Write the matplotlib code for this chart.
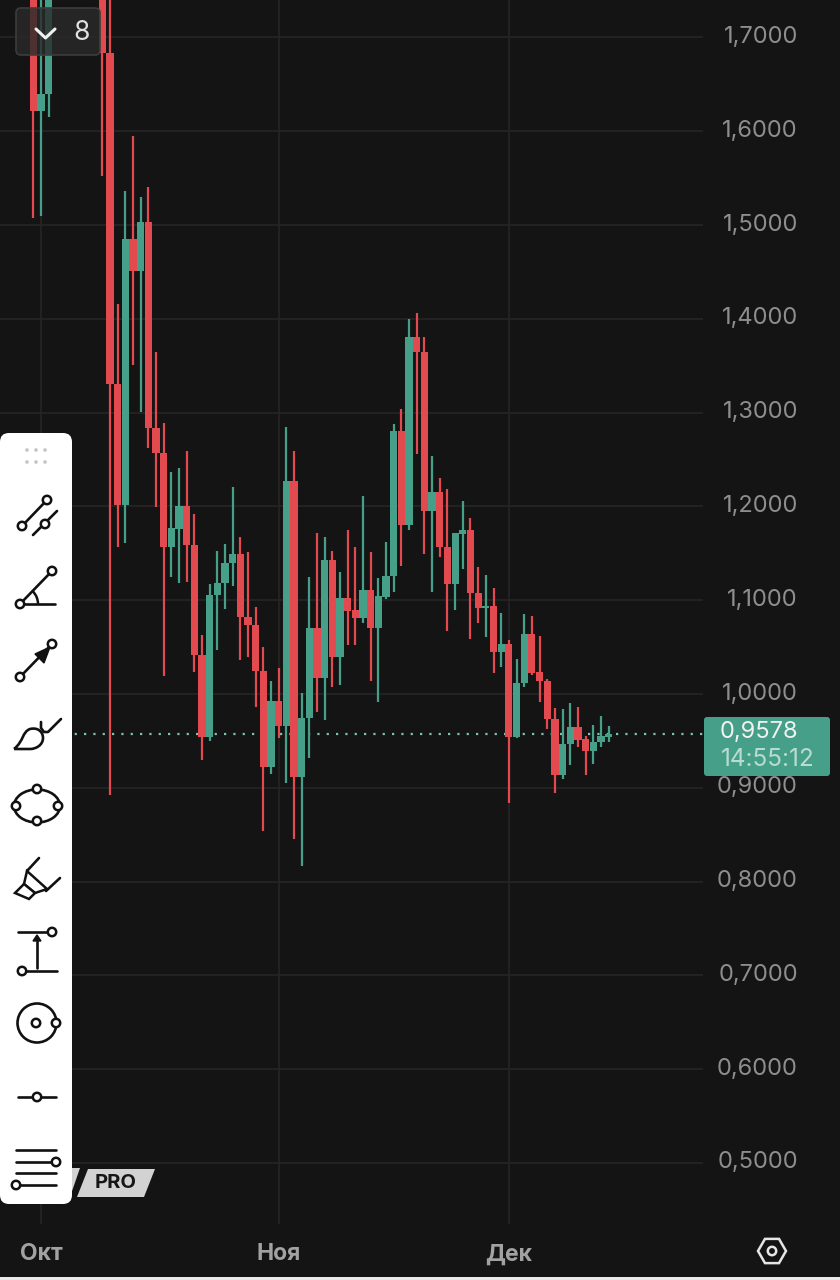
import numpy as np
import matplotlib
matplotlib.use("Agg")
import matplotlib.pyplot as plt
from matplotlib.patches import FancyBboxPatch, Polygon, Circle, Ellipse, RegularPolygon, Arc, PathPatch
from matplotlib.path import Path
from matplotlib.transforms import ScaledTranslation

# daily candles, day 1 is the Oct tick; days 3-8 are above the view
day = [0, 1, 2] + list(range(9, 76))
open_ = [1.78, 1.6215, 1.6397, 1.78, 1.6834, 1.3305, 1.2015, 1.4851, 1.4510, 1.5032,
         1.2836, 1.2569, 1.1567, 1.1759, 1.2004, 1.1588, 1.0416, 0.9542, 1.1055, 1.1183,
         1.1397, 1.1493, 1.0821, 1.0736, 1.0245, 0.9222, 0.9925, 0.9659, 1.2271, 0.9115,
         0.9744, 1.0704, 1.0171, 1.1429, 1.0394, 1.1023, 1.0896, 1.0810, 1.1109, 1.0704,
         1.1034, 1.1258, 1.2804, 1.1802, 1.3806, 1.3646, 1.1951, 1.2154, 1.1567, 1.1173,
         1.1706, 1.1748, 1.1077, 1.0917, 1.0938, 1.0448, 1.0533, 0.9542, 1.0117, 1.0640,
         1.0235, 1.0139, 0.9733, 0.9136, 0.9467, 0.9648, 0.9520, 0.9392, 0.9488, 0.9542]
close = [1.6215, 1.6397, 1.78, 1.6834, 1.3305, 1.2015, 1.4851, 1.4510, 1.5032, 1.2836,
         1.2569, 1.1567, 1.1770, 1.2004, 1.1588, 1.0416, 0.9542, 1.1055, 1.1183, 1.1397,
         1.1493, 1.0821, 1.0736, 1.0245, 0.9222, 0.9925, 0.9659, 1.2271, 0.9115, 0.9744,
         1.0704, 1.0171, 1.1429, 1.0394, 1.1023, 1.0885, 1.0810, 1.1109, 1.0704, 1.1045,
         1.1258, 1.2804, 1.1802, 1.3806, 1.3646, 1.1951, 1.2154, 1.1567, 1.1173, 1.1716,
         1.1748, 1.1077, 1.0917, 1.0938, 1.0448, 1.0533, 0.9542, 1.0117, 1.0640, 1.0224,
         1.0139, 0.9733, 0.9136, 0.9467, 0.9648, 0.9510, 0.9392, 0.9488, 0.9552, 0.9578]
high = [1.78, 1.78, 1.78, 1.78, 1.78, 1.4158, 1.5362, 1.5949, 1.5299, 1.5405,
        1.3646, 1.2889, 1.2367, 1.2409, 1.2591, 1.1919, 1.0629, 1.1173, 1.1525, 1.1599,
        1.2207, 1.1674, 1.1514, 1.0928, 1.0501, 1.0139, 1.0277, 1.2846, 1.2591, 1.0011,
        1.1247, 1.1716, 1.1674, 1.1525, 1.1301, 1.1748, 1.1567, 1.2111, 1.1514, 1.1237,
        1.1620, 1.2878, 1.3038, 1.3998, 1.4062, 1.3806, 1.2537, 1.2303, 1.2186, 1.1716,
        1.2058, 1.1876, 1.1354, 1.1269, 1.1130, 1.0864, 1.0576, 1.0373, 1.0853, 1.0832,
        1.0618, 1.0160, 0.9851, 0.9840, 0.9904, 0.9861, 0.9552, 0.9670, 0.9765, 0.9659]
low = [1.5075, 1.5096, 1.6151, 1.5522, 0.8923, 1.1567, 1.1610, 1.3507, 1.3006, 1.2623,
       1.1994, 1.0192, 1.1247, 1.1183, 1.1194, 1.0235, 0.9296, 0.9499, 1.0469, 1.0906,
       1.1151, 1.0362, 1.0394, 0.9861, 0.8539, 0.9147, 0.9531, 0.9051, 0.8454, 0.8166,
       0.9318, 0.9808, 0.9723, 1.0075, 1.0096, 1.0522, 1.0522, 1.0757, 1.0139, 0.9915,
       1.1013, 1.1087, 1.1365, 1.1748, 1.2559, 1.1493, 1.1087, 1.1461, 1.0672, 1.0896,
       1.1333, 1.0586, 1.0757, 1.0608, 1.0224, 1.0288, 0.8838, 0.9530, 1.0075, 1.0203,
       0.9915, 0.9627, 0.8945, 0.9094, 0.9243, 0.9435, 0.9136, 0.9254, 0.9435, 0.9488]

price_ticks = [1.7, 1.6, 1.5, 1.4, 1.3, 1.2, 1.1, 1.0, 0.9, 0.8, 0.7, 0.6, 0.5]
month_days = [1, 32, 62]
month_labels = ["Окт", "Ноя", "Дек"]
last_price = 0.9578
last_price_label = "0,9578"
countdown = "14:55:12"

BG = "#141414"
RED = "#e34a50"
GREEN = "#459f89"
GRID = "#252525"
LABEL = "#8e8e8e"

plt.rcParams["font.family"] = ["Inter", "DejaVu Sans"]
fig = plt.figure(figsize=(8.4, 12.8), dpi=100, facecolor=BG)
W, H = 840.0, 1280.0

# main chart, right edge at 703px and bottom edge at 1224px
ax = fig.add_axes([0, 1 - 1224 / H, 703 / W, 1224 / H], facecolor=BG)
ax.set_xlim(-33.3 / 7.67, (703 - 33.3) / 7.67)
ax.set_ylim(1 - (1224 - 694) / 938, 1 + 694 / 938)
for s in ax.spines.values():
    s.set_visible(False)
ax.yaxis.tick_right()
ax.set_yticks(price_ticks)
ax.set_yticklabels([f"{p:.4f}".replace(".", ",") for p in price_ticks])
ax.set_xticks(month_days)
ax.set_xticklabels(month_labels, fontweight="bold")
# right edge of the price labels lines up at 798px
ax.tick_params(axis="y", length=0, pad=68.4, labelsize=17, labelcolor=LABEL)
ax.tick_params(axis="x", length=0, pad=14, labelsize=16.5, labelcolor="#a2a2a2")
ax.grid(True, color=GRID, lw=1.2)
ax.set_axisbelow(True)

# price labels sit a little above their grid line
up_shift = ScaledTranslation(0, 3 / 72 * 0.72, fig.dpi_scale_trans)
for lab in ax.get_yticklabels():
    lab.set_horizontalalignment("right")
    lab.set_transform(lab.get_transform() + up_shift)

ax.axhline(last_price, color="#7cc4ae", lw=1.6, ls=(0, (1, 3.2)), zorder=1.5)

for d, o, c, h, l in zip(day, open_, close, high, low):
    col = GREEN if c >= o else RED
    ax.vlines(d, l, h, color=col, lw=1.6, zorder=2)
    ax.bar(d, abs(c - o), bottom=min(o, c), width=0.95, color=col, zorder=3)

# everything below is the app chrome, in pixel coordinates
ui = fig.add_axes([0, 0, 1, 1], facecolor="none")
ui.set_xlim(0, W)
ui.set_ylim(H, 0)
ui.axis("off")

# price tag
ui.add_patch(FancyBboxPatch((706, 719), 122, 55, boxstyle="round,pad=2,rounding_size=3", fc=GREEN, ec="none"))
ui.text(720, 732, last_price_label, color="#f2f2f2", fontsize=17, va="center")
ui.text(721, 760, countdown, color="#b9dcd2", fontsize=17.5, va="center")

# settings hexagon
ui.add_patch(RegularPolygon((772, 1251), 6, radius=14, orientation=np.pi / 6, fc="none", ec="#e6e6e6", lw=1.8))
ui.add_patch(Circle((772, 1251), 4.2, fc="none", ec="#e6e6e6", lw=1.8))

# interval button
ui.add_patch(FancyBboxPatch((17, 9), 82, 45, boxstyle="round,pad=1,rounding_size=5", fc="#2a2a2acc", ec="#3c3c3c", lw=1.2))
ui.plot([36, 45.5, 55], [29, 38, 29], color="#f0f0f0", lw=2.2, solid_capstyle="round")
ui.text(82, 32.5, "8", color="#e0e0e0", fontsize=19, ha="center", va="center")

# PRO badge
ui.add_patch(Polygon([[60, 1168], [80, 1168], [70, 1197], [50, 1197]], fc="#d2d2d2", ec="none"))
ui.add_patch(Polygon([[88, 1169], [155, 1169], [144, 1197], [77, 1197]], fc="#d2d2d2", ec="none"))
ui.text(116, 1183, "PRO", color="#161616", fontsize=14.5, fontweight="bold", ha="center", va="center")

# white tool panel
ui.add_patch(FancyBboxPatch((8, 441), 56, 755, boxstyle="round,pad=8,rounding_size=9", fc="white", ec="none"))

for px in (27, 36, 45):
    for py in (450, 462):
        ui.add_patch(Circle((px, py), 1.8, fc="#c4c4c4", ec="none"))


def line(pts, lw=1.9):
    xs, ys = zip(*pts)
    ui.plot(xs, ys, color="#111111", lw=lw, solid_capstyle="round", zorder=4)


def knob(x, y, r=4.2):
    ui.add_patch(Circle((x, y), r, fc="white", ec="#111111", lw=1.8, zorder=5))


# trend lines
line([(22, 526), (47, 500)])
line([(33, 535), (57, 511)])
knob(22, 526)
knob(47, 500)
knob(45, 524)
# angle
line([(20, 604), (52, 571)])
line([(20, 604), (55, 604)])
ui.add_patch(Arc((20, 604), 36, 36, theta1=-45, theta2=0, color="#111111", lw=1.8, zorder=4))
knob(20, 604)
knob(52, 571)
# arrow
line([(20, 677), (52, 644)])
ui.add_patch(Polygon([[50, 647], [35, 654], [44, 663]], fc="#111111", ec="#111111", zorder=5))
knob(20, 677)
knob(52, 644)
# brush drop
drop = Path([(14, 749), (24, 741), (22, 732), (30, 729), (38, 727), (43, 732), (43, 738),
             (43, 745), (36, 749), (30, 749), (14, 749)],
            [Path.MOVETO, Path.CURVE4, Path.CURVE4, Path.CURVE4, Path.CURVE4, Path.CURVE4, Path.CURVE4,
             Path.CURVE4, Path.CURVE4, Path.CURVE4, Path.LINETO])
ui.add_patch(PathPatch(drop, fc="none", ec="#111111", lw=1.9, zorder=4))
line([(41, 722), (41, 728), (44, 732), (48, 732), (61, 719)])
# ellipse
ui.add_patch(Ellipse((37, 806), 46, 33, fc="none", ec="#111111", lw=1.9, zorder=4))
knob(16, 806)
knob(58, 806)
knob(37, 789)
knob(37, 821)
# highlighter
line([(27, 871), (39, 858)])
line([(46, 891), (60, 878)])
ui.add_patch(Polygon([[27, 871], [47, 889], [35, 893], [24, 884]], fc="white", ec="#111111", lw=1.8, zorder=4))
ui.add_patch(Polygon([[24, 884], [35, 893], [29, 899], [15, 893]], fc="white", ec="#111111", lw=1.8, zorder=4))
# measure
line([(18, 932), (54, 932)])
line([(22, 971), (57, 971)])
line([(37, 968), (37, 940)])
ui.add_patch(Polygon([[33, 941], [41, 941], [37, 935]], fc="#111111", ec="#111111", zorder=5))
knob(52, 932)
knob(22, 971)
# circle
ui.add_patch(Circle((37, 1023), 19.5, fc="none", ec="#111111", lw=1.9, zorder=4))
knob(36, 1023)
knob(56, 1023)
# ray
line([(18, 1097), (56, 1097)])
knob(37, 1097)
# fib
line([(16, 1150), (56, 1150)])
line([(16, 1162), (56, 1162)])
line([(16, 1173), (56, 1173)])
line([(16, 1185), (56, 1185)])
knob(56, 1162)
knob(16, 1185)

# the next screen element peeks in at the very bottom
ui.add_patch(plt.Rectangle((0, 1277), W, 3, fc="#e9e9e9", ec="none"))

fig.savefig("out.png", dpi=100, facecolor=BG)
